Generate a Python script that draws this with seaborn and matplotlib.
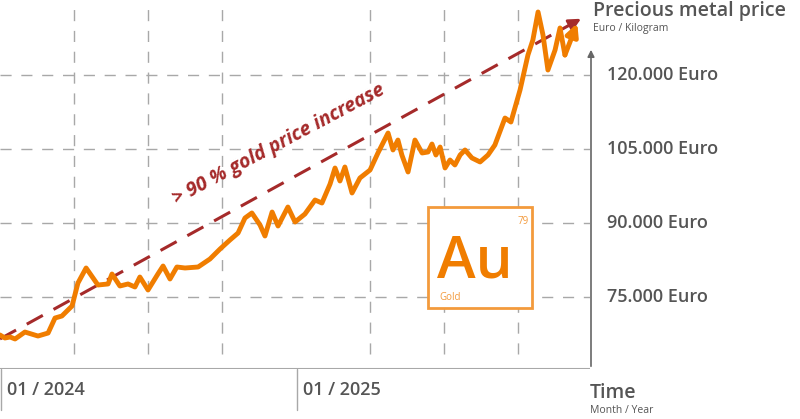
import matplotlib
matplotlib.use("Agg")
import matplotlib.pyplot as plt
import seaborn as sns
import pandas as pd
from matplotlib.patches import Rectangle

months = [0,0.2,0.41,0.61,1.01,1.54,1.95,2.23,2.51,2.92,3.16,3.49,3.97,4.38,4.54,4.86,5.19,5.47,5.67,6.0,6.4,6.61,6.89,7.17,7.5,8.03,8.51,8.92,9.32,9.65,9.93,10.21,10.54,10.74,11.03,11.27,11.67,11.96,12.36,12.77,13.05,13.38,13.58,13.78,13.98,14.27,14.59,15.0,15.32,15.73,15.93,16.13,16.29,16.54,16.82,17.11,17.35,17.51,17.67,17.84,18.04,18.24,18.44,18.65,18.85,19.13,19.46,19.78,20.06,20.47,20.71,21.08,21.4,21.6,21.81,22.01,22.21,22.5,22.7,22.9,23.4]
prices = [67300,66690,66890,66490,67900,67090,67700,70740,71150,73180,77840,80880,77430,77640,79660,77230,77640,77030,79050,76420,79660,81280,78650,81080,80880,81080,82700,84730,86550,87970,91010,92030,89590,87360,92230,89390,93240,90200,91820,94660,94050,97910,101150,98510,101350,96080,99120,100740,104190,108240,104800,106820,103780,100340,106820,104190,104390,106010,103780,105400,101150,102770,101760,103780,104800,103180,102370,103780,105810,111280,110470,116960,124050,127090,132770,128110,121010,125070,129530,124050,130500]
ytick_values = [75000, 90000, 105000, 120000]
ytick_labels = ["75.000 Euro", "90.000 Euro", "105.000 Euro", "120.000 Euro"]
xtick_labels = ["01 / 2024", "01 / 2025"]
trend_start = (0, 66500)
trend_end = (23.55, 131400)

sns.set_style("white")
plt.rcParams['font.family'] = ['Open Sans', 'DejaVu Sans']
ORANGE = "#f07d00"
GRAY = "#555555"
GRID = "#a8a8a8"

fig = plt.figure(figsize=(8, 4.19), dpi=100)
ax = fig.add_axes([0, 50/419, 590/800, 369/419])
ax.set_xlim(0, 590/24.67)
ax.set_ylim(60406, 135200)
for s in ax.spines.values():
    s.set_visible(False)
ax.set_xticks([]); ax.set_yticks([])

for v in ytick_values:
    ax.axhline(v, color=GRID, lw=1, ls=(0, (8, 7)), zorder=0)
for q in range(1, 8):
    if q != 4:
        ax.axvline(q*3, ymin=0.04, color=GRID, lw=1, ls=(0, (8, 7)), zorder=0)
ax.axhline(60406, color=GRID, lw=1.5, zorder=0)

df = pd.DataFrame({"month": months[:-1], "price": prices[:-1]})
sns.lineplot(data=df, x="month", y="price", ax=ax, color=ORANGE, lw=3.5, clip_on=False, zorder=3)
ax.set_xlabel(""); ax.set_ylabel("")
ax.annotate("", xy=(months[-1], prices[-1]), xytext=(months[-2], prices[-2]),
            arrowprops=dict(arrowstyle="-|>", color=ORANGE, lw=3.5, mutation_scale=18, shrinkA=0, shrinkB=0),
            annotation_clip=False, zorder=4)

ax.plot([trend_start[0], trend_end[0]-0.4], [trend_start[1], trend_end[1]-1100], color="#a52a2a", lw=2.2, ls=(0, (6, 4)), zorder=2, clip_on=False)
ax.annotate("", xy=trend_end, xytext=(trend_end[0]-0.5, trend_end[1]-1400),
            arrowprops=dict(arrowstyle="-|>", color="#a52a2a", lw=2, mutation_scale=18, shrinkA=0, shrinkB=0), annotation_clip=False)
ax.text(11.3, 106000, "> 90 % gold price increase", rotation=28.0, color="#a52a2a",
        fontsize=14, fontweight="bold", fontstyle="italic", ha="center", va="center", rotation_mode="anchor")

# y axis
fig.add_artist(matplotlib.patches.FancyArrowPatch((591/800, 50/419), (591/800, 372/419), transform=fig.transFigure,
               arrowstyle="-|>", mutation_scale=10, color="#666666", lw=1.2))
for v, lab in zip(ytick_values, ytick_labels):
    ypix = 297 - (v - 75000) / 15000 * 74
    fig.text(607/800, 1 - ypix/419, lab, fontsize=13, color=GRAY, va="center", ha="left", fontweight="semibold")
fig.text(593/800, 1 - 11/419, "Precious metal price", fontsize=14, color=GRAY, va="center", fontweight="semibold")
fig.text(593/800, 1 - 28/419, "Euro / Kilogram", fontsize=7.5, color=GRAY, va="center")

# x ticks
for xp, lab in zip([0, 296], xtick_labels):
    fig.add_artist(plt.Line2D([xp/800+0.001, xp/800+0.001], [1-369/419, 1-410/419], color=GRID, lw=1))
    fig.text((xp+7)/800, 1-390/419, lab, fontsize=13, color=GRAY, va="center", fontweight="semibold")
fig.text(590/800, 1-393/419, "Time", fontsize=14, color=GRAY, va="center", fontweight="semibold")
fig.text(590/800, 1-410/419, "Month / Year", fontsize=7.5, color=GRAY, va="center")

# Au box
fig.add_artist(Rectangle((428/800, 1-308/419), 104/800, 101/419, transform=fig.transFigure,
                         facecolor="white", edgecolor="#f39a3c", lw=2, zorder=5))
fig.text(475/800, 1-262/419, "Au", fontsize=42, color=ORANGE, ha="center", va="center", zorder=6, fontweight="semibold")
fig.text(523/800, 1-221/419, "79", fontsize=7, color="#f39a3c", ha="center", va="center", zorder=6)
fig.text(439/800, 1-297/419, "Gold", fontsize=7, color="#f39a3c", ha="left", va="center", zorder=6)

fig.savefig("out.png", dpi=100)
